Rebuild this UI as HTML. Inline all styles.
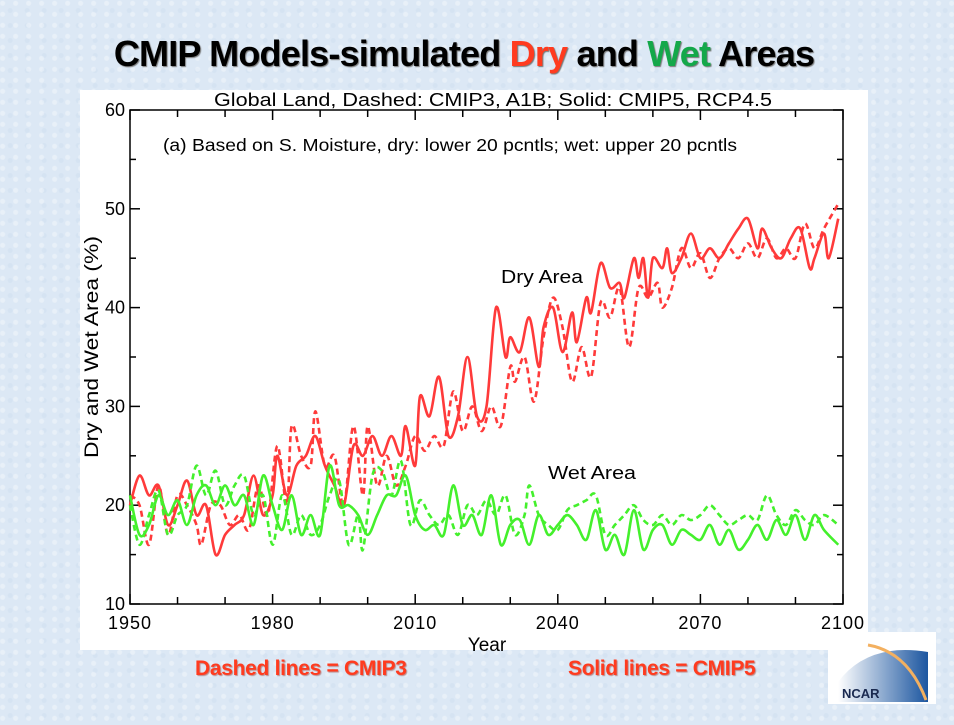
<!DOCTYPE html>
<html><head><meta charset="utf-8"><style>
html,body{margin:0;padding:0}
body{width:954px;height:725px;overflow:hidden;background:#dde9f5;position:relative;font-family:"Liberation Sans",Arial,sans-serif}
.bg{position:absolute;inset:0;background:
radial-gradient(circle at 20% 30%,rgba(255,255,255,.35) 0 2px,transparent 3px) 0 0/13px 11px,
radial-gradient(circle at 60% 70%,rgba(200,218,238,.35) 0 2px,transparent 3px) 0 0/17px 15px,#dce8f5}
</style></head><body>
<div class="bg"></div>
<div style="position:absolute;left:0;width:928px;top:33px;text-align:center;font-weight:bold;font-size:36px;letter-spacing:-0.8px;text-shadow:1px 1px 1px #777">CMIP Models-simulated <span style="color:#ff3b1f">Dry</span> and <span style="color:#14a84a">Wet</span> Areas</div>
<div style="position:absolute;left:80px;top:90px;width:788px;height:560px;background:#fff"></div>
<svg id="chart" width="954" height="725" style="position:absolute;left:0;top:0" font-family="Liberation Sans, Arial, sans-serif"></svg>
<div style="position:absolute;left:195px;top:657px;font-weight:bold;font-size:21px;letter-spacing:-0.3px;color:#ff3b1f;text-shadow:1px 1px 1px #b88">Dashed lines = CMIP3</div>
<div style="position:absolute;left:568px;top:657px;font-weight:bold;font-size:21px;letter-spacing:-0.3px;color:#ff3b1f;text-shadow:1px 1px 1px #b88">Solid lines = CMIP5</div>
<div style="position:absolute;left:828px;top:632px;width:108px;height:72px;background:#fff">
<svg width="108" height="72"><defs><linearGradient id="g" x1="0" x2="1"><stop offset="0" stop-color="#fff"/><stop offset="1" stop-color="#1c56a0"/></linearGradient></defs>
<path d="M10 70 L10 50 Q40 10 100 20 L100 70 Z" fill="url(#g)"/><path d="M40 13 Q80 20 98 68" stroke="#f3b060" stroke-width="3" fill="none"/>
<text x="14" y="66" font-size="13" font-weight="bold" fill="#1a2a50" font-family="Liberation Sans, sans-serif">NCAR</text></svg></div>
<script>
const xTicks=[1950,1980,2010,2040,2070,2100];
const yTicks=[10,20,30,40,50,60];
const dry5Years=[1950,1952,1954,1956,1958,1960,1962,1964,1966,1968,1970,1972,1974,1976,1978,1980,1981,1983,1985,1987,1989,1991,1993,1995,1997,1999,2001,2003,2005,2007,2008,2010,2011,2013,2015,2017,2019,2021,2023,2025,2027,2029,2030,2032,2034,2036,2037,2039,2041,2043,2044,2046,2047,2049,2051,2053,2054,2056,2057,2058,2059,2060,2062,2063,2064,2066,2068,2070,2072,2074,2076,2078,2080,2082,2083,2085,2087,2089,2091,2093,2094,2096,2097,2099];
const dry5Values=[20,23,21,22,18,20,22.5,19,20,15,17,18,19,23,19,21,25,21,24,25,27,24,22,20,26,25,27,25,27,25,28,24,31,29,33,27,29,35,29,30,40,35,37,35.5,39,34,38,40,35.5,39.5,36.5,41,39.5,44.5,42,42.5,41,45,43,45,41,45,44,46,43.5,45,47.5,45,46,45,46.5,48,49,46,48,46,45,47,48,44,45,47.5,45,49];
const dry3Years=[1950,1952,1954,1956,1958,1960,1962,1964,1965,1967,1969,1971,1973,1975,1977,1979,1981,1983,1984,1986,1988,1989,1991,1993,1995,1997,1999,2000,2002,2004,2006,2008,2010,2012,2014,2016,2018,2020,2022,2024,2026,2028,2030,2031,2033,2035,2037,2039,2041,2043,2045,2047,2049,2051,2053,2055,2057,2059,2061,2062,2064,2066,2068,2070,2072,2074,2076,2078,2080,2082,2084,2086,2088,2090,2092,2094,2096,2099];
const dry3Values=[21,20,16,22,17,21,20,18,16,20,20,18,19,17.5,22,19,26,20,28,25,24,29.5,24,25,20,28,21,28,22,25,22,24,27,25.5,27,26,31.5,27.5,30,27.5,30,28,34,32.5,35,30.5,37,41,38,32.5,36,33,40.5,39,42,36,42,41,42.5,40,42,46,44,45.5,43,45,46,45,46.5,45,47,45,46,45,48.5,46,48,50.5];
const wet5Years=[1950,1952,1954,1956,1958,1960,1962,1964,1966,1968,1970,1972,1974,1976,1978,1980,1982,1984,1986,1988,1990,1992,1994,1996,1998,2000,2002,2004,2006,2008,2010,2012,2014,2016,2018,2020,2022,2024,2026,2028,2030,2032,2034,2036,2038,2040,2042,2044,2046,2048,2050,2052,2054,2056,2058,2060,2062,2064,2066,2068,2070,2072,2074,2076,2078,2080,2082,2084,2086,2088,2090,2092,2094,2096,2099];
const wet5Values=[21,17,18,21,19,20.5,18,21,22,20,22,20,21,18,23,20,17.5,21,17,19,17,24,20,20,19,17,19,21,21,23,19,17.5,18,17,22,18,19,17,21,16,18,18.5,16,19,17,18,19,18,16.5,19.5,15.5,17,15,19.5,15.5,17.5,18,16,17.5,17,16.5,18,16,17.5,15.5,16.5,18,16.5,18.5,17,19,16.5,19,17.5,16];
const wet3Years=[1950,1952,1954,1956,1958,1960,1962,1964,1966,1968,1970,1972,1974,1976,1978,1980,1982,1984,1986,1988,1990,1992,1994,1996,1998,1999,2001,2003,2005,2007,2009,2011,2013,2015,2017,2019,2021,2023,2025,2027,2029,2031,2033,2034,2036,2038,2040,2042,2044,2046,2048,2050,2052,2054,2056,2058,2060,2062,2064,2066,2068,2070,2072,2074,2076,2078,2080,2082,2084,2086,2088,2090,2092,2094,2096,2099];
const wet3Values=[20,16,19,21.5,17,19,20,24,21,23.5,20,22,23,19,21,16,21,17,19,17,18,21,22.5,16,19,15.5,23,23.5,21,24.5,18,20.5,19,18,19,17,20,19,20.5,19,21,17,19,22,19,18,17.5,19.5,20,20.5,21,17,18,19,20,18.5,18,19,18,19,18.5,19,20,19,18,18.5,19,18.5,21,19,18,19.5,18.5,18,19,18];

const svg=document.getElementById('chart');const NS='http://www.w3.org/2000/svg';
const X0=130,X1=843,Y0=604,Y1=110;
const sx=v=>X0+(v-1950)/150*(X1-X0);
const sy=v=>Y0-(v-10)/50*(Y0-Y1);
function mk(t,a){const e=document.createElementNS(NS,t);for(const k in a)e.setAttribute(k,a[k]);svg.appendChild(e);return e;}
function path(xs,ys){const p=xs.map((x,i)=>[sx(x),sy(ys[i])]);let d='M'+p[0][0]+' '+p[0][1];
for(let i=0;i<p.length-1;i++){const a=p[i-1]||p[i],b=p[i],c=p[i+1],e=p[i+2]||c;
d+=' C'+(b[0]+(c[0]-a[0])/6)+' '+(b[1]+(c[1]-a[1])/6)+' '+(c[0]-(e[0]-b[0])/6)+' '+(c[1]-(e[1]-b[1])/6)+' '+c[0]+' '+c[1];}return d;}
let f=mk('rect',{x:X0,y:Y1,width:X1-X0,height:Y0-Y1,fill:'none',stroke:'#000','stroke-width':1.5});

for(let v=10;v<=60;v+=5){const L=v%10?6:10;mk('line',{x1:X0,x2:X0+L,y1:sy(v),y2:sy(v),stroke:'#000','stroke-width':1.5});mk('line',{x1:X1,x2:X1-L,y1:sy(v),y2:sy(v),stroke:'#000','stroke-width':1.5});}
for(let y=1950;y<=2100;y+=10){const L=(y-1950)%30?7:10;mk('line',{x1:sx(y),x2:sx(y),y1:Y0,y2:Y0-L,stroke:'#000','stroke-width':1.5});mk('line',{x1:sx(y),x2:sx(y),y1:Y1,y2:Y1+L,stroke:'#000','stroke-width':1.5});}
yTicks.forEach(v=>{const t=mk('text',{x:X0-5,y:sy(v)+6,'text-anchor':'end','font-size':18});t.textContent=v;
});
xTicks.forEach(v=>{const t=mk('text',{x:sx(v),y:629,'text-anchor':'middle','font-size':18,'letter-spacing':1});t.textContent=v;
});
const series=[[dry3Years,dry3Values,'#ff3a3a',true,'dry-cmip3-line'],[dry5Years,dry5Values,'#ff3a3a',false,'dry-cmip5-line'],[wet3Years,wet3Values,'#44f02c',true,'wet-cmip3-line'],[wet5Years,wet5Values,'#44f02c',false,'wet-cmip5-line']];
series.forEach(s=>{const e=mk('path',{d:path(s[0],s[1]),fill:'none',stroke:s[2],'stroke-width':2.6,'stroke-linejoin':'round'});
if(s[3])e.setAttribute('stroke-dasharray','6 4');
});
function txt(x,y,s,str,name,extra){const t=mk('text',Object.assign({x:x,y:y,'font-size':s},extra||{}));t.textContent=str;
return t;}
txt(214,106,18,'Global Land, Dashed: CMIP3, A1B; Solid: CMIP5, RCP4.5','chart-subtitle',{textLength:558,lengthAdjust:'spacingAndGlyphs'});
txt(163,151,17.5,'(a) Based on S. Moisture, dry: lower 20 pcntls; wet: upper 20 pcntls','panel-annotation',{textLength:574,lengthAdjust:'spacingAndGlyphs'});
txt(501,283,18,'Dry Area','dry-area-label',{textLength:82,lengthAdjust:'spacingAndGlyphs'});
txt(548,479,18,'Wet Area','wet-area-label',{textLength:88,lengthAdjust:'spacingAndGlyphs'});
txt(487,651,19,'Year','x-axis-title',{'text-anchor':'middle'});
txt(98,347,19,'Dry and Wet Area (%)','y-axis-title',{'text-anchor':'middle',transform:'rotate(-90 98 347)',textLength:222,lengthAdjust:'spacingAndGlyphs'});
</script>
</body></html>
